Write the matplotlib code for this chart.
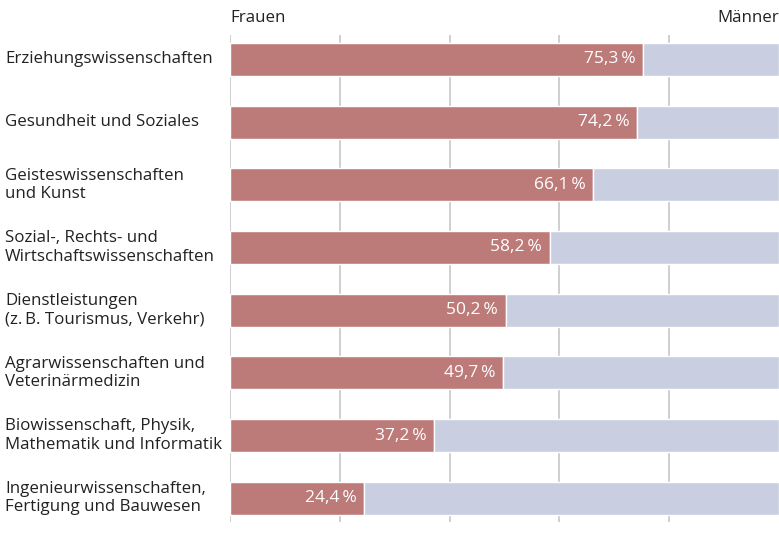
import matplotlib
matplotlib.use("Agg")
import matplotlib.pyplot as plt
import matplotlib.transforms as mtransforms

categories = [
    "Erziehungswissenschaften",
    "Gesundheit und Soziales",
    "Geisteswissenschaften\nund Kunst",
    "Sozial-, Rechts- und\nWirtschaftswissenschaften",
    "Dienstleistungen\n(z.\u2009B. Tourismus, Verkehr)",
    "Agrarwissenschaften und\nVeterinärmedizin",
    "Biowissenschaft, Physik,\nMathematik und Informatik",
    "Ingenieurwissenschaften,\nFertigung und Bauwesen",
]
frauen = [75.3, 74.2, 66.1, 58.2, 50.2, 49.7, 37.2, 24.4]
maenner = [100 - v for v in frauen]
value_labels = ["75,3\u2009%", "74,2\u2009%", "66,1\u2009%", "58,2\u2009%", "50,2\u2009%", "49,7\u2009%", "37,2\u2009%", "24,4\u2009%"]

plt.rcParams['font.family'] = ['Open Sans', 'DejaVu Sans']

RED = "#bc7a78"
BLUE = "#c9cfe0"
TXT = "#222222"

fig = plt.figure(figsize=(7.79, 5.36), dpi=100)
ax = fig.add_axes([230/779, 1 - 522/536, 549/779, (522 - 35)/536])

y = list(range(len(categories)))
ax.barh(y, frauen, height=0.53, color=RED, edgecolor="white", linewidth=1.0, zorder=3)
ax.barh(y, maenner, left=frauen, height=0.53, color=BLUE, edgecolor="white", linewidth=1.0, zorder=3)

for yi, v, lab in zip(y, frauen, value_labels):
    ax.text(v - 1.35, yi, lab, ha="right", va="center", color="white", fontsize=12.5, zorder=4)

ax.set_xlim(0, 100)
ax.set_ylim(7.38, -0.39)
for gx in [0, 20, 40, 60, 80]:
    ax.axvline(gx, color="#cccccc", linewidth=1.3, zorder=1)

for s in ax.spines.values():
    s.set_visible(False)
ax.set_xticks([])
ax.set_yticks([])

trans = mtransforms.blended_transform_factory(fig.transFigure, ax.transData)
for yi, cat in zip(y, categories):
    ax.text(5/779, yi, cat, transform=trans, ha="left", va="center",
            fontsize=12.2, color=TXT, linespacing=1.2, clip_on=False)

fig.text(230/779, 1 - 18/536, "Frauen", ha="left", va="center", fontsize=12.2, color=TXT)
fig.text(1.0, 1 - 18/536, "Männer", ha="right", va="center", fontsize=12.2, color=TXT)

fig.savefig("out.png", dpi=100)
